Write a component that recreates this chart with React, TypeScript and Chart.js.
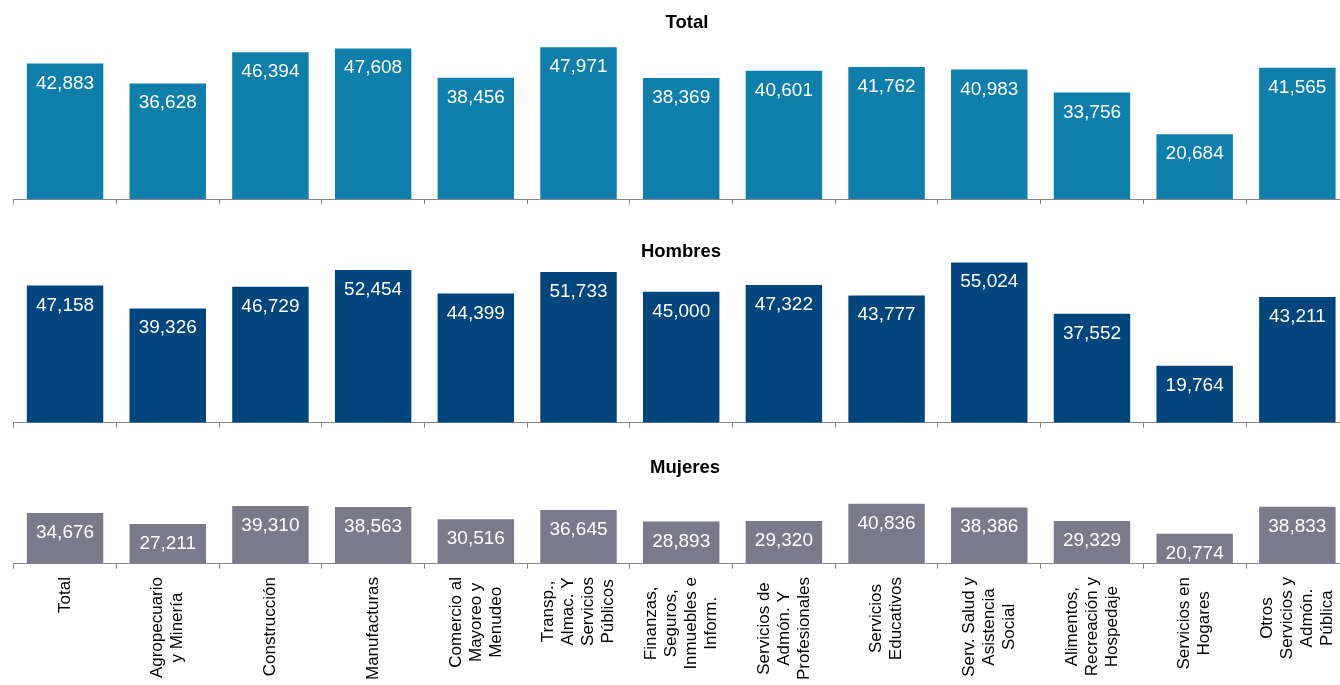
import React, { useEffect, useRef } from "react";
import { Chart, registerables } from "chart.js";

Chart.register(...registerables);

const categories: (string | string[])[] = [
  "Total",
  ["Agropecuario", "y Minería"],
  "Construcción",
  "Manufacturas",
  ["Comercio al", "Mayoreo y", "Menudeo"],
  ["Transp.,", "Almac. Y", "Servicios", "Públicos"],
  ["Finanzas,", "Seguros,", "Inmuebles e", "Inform."],
  ["Servicios de", "Admón. Y", "Profesionales"],
  ["Servicios", "Educativos"],
  ["Serv. Salud y", "Asistencia", "Social"],
  ["Alimentos,", "Recreación y", "Hospedaje"],
  ["Servicios en", "Hogares"],
  ["Otros", "Servicios y", "Admón.", "Pública"],
];

const totalValues = [42883, 36628, 46394, 47608, 38456, 47971, 38369, 40601, 41762, 40983, 33756, 20684, 41565];
const hombresValues = [47158, 39326, 46729, 52454, 44399, 51733, 45000, 47322, 43777, 55024, 37552, 19764, 43211];
const mujeresValues = [34676, 27211, 39310, 38563, 30516, 36645, 28893, 29320, 40836, 38386, 29329, 20774, 38833];

const panelTitles = ["Total", "Hombres", "Mujeres"];

const FONT = '"Liberation Sans", Arial, Helvetica, sans-serif';
const CANVAS_W = 1360;
const Y_MAX = 60000;
const AXIS_COLOR = "#878787";

type PanelCfg = {
  title: string;
  values: number[];
  color: string;
  top: number;
  height: number;
  padTop: number;
  padBottom: number;
  titleX: number;
  titleY: number;
  showLabels: boolean;
};

const panels: PanelCfg[] = [
  { title: panelTitles[0], values: totalValues, color: "#0e7eab", top: 0, height: 215, padTop: 7.9, padBottom: 10.7, titleX: 687, titleY: 28.3, showLabels: false },
  { title: panelTitles[1], values: hombresValues, color: "#00457c", top: 225, height: 215, padTop: 21.9, padBottom: 12.3, titleX: 681, titleY: 31.7, showLabels: false },
  { title: panelTitles[2], values: mujeresValues, color: "#7b7a8b", top: 450, height: 235, padTop: 24.1, padBottom: 116.3, titleX: 685, titleY: 23.2, showLabels: true },
];

const decorPlugin = {
  id: "decor",
  afterDatasetsDraw(chart: any, _args: any, opts: any) {
    const ctx: CanvasRenderingContext2D = chart.ctx;
    const meta = chart.getDatasetMeta(0);
    const data = chart.data.datasets[0].data as number[];
    ctx.save();
    // value labels inside bars
    ctx.fillStyle = "#ffffff";
    ctx.font = `19px ${FONT}`;
    ctx.textAlign = "center";
    ctx.textBaseline = "alphabetic";
    meta.data.forEach((bar: any, i: number) => {
      ctx.fillText(data[i].toLocaleString("en-US"), bar.x, bar.y + 26);
    });
    // panel title
    ctx.fillStyle = "#000000";
    ctx.font = `bold 18.5px ${FONT}`;
    ctx.fillText(opts.title, opts.titleX, opts.titleY);
    // rotated category labels
    if (opts.showLabels) {
      const xs = chart.scales.x;
      ctx.font = `17px ${FONT}`;
      ctx.textBaseline = "middle";
      ctx.fillStyle = "#000000";
      const startY = chart.chartArea.bottom + 13.3;
      categories.forEach((cat, i) => {
        const lines = Array.isArray(cat) ? cat : [cat];
        const maxW = Math.max(...lines.map((l) => ctx.measureText(l).width));
        const cx = xs.getPixelForValue(i);
        const cy = startY + maxW / 2;
        lines.forEach((line, j) => {
          const lx = cx + (j - (lines.length - 1) / 2) * 20;
          ctx.save();
          ctx.translate(lx, cy);
          ctx.rotate(-Math.PI / 2);
          ctx.fillText(line, 0, 0);
          ctx.restore();
        });
      });
    }
    ctx.restore();
  },
};

function Panel({ cfg }: { cfg: PanelCfg }) {
  const ref = useRef<HTMLCanvasElement | null>(null);
  useEffect(() => {
    if (!ref.current) return;
    const chart = new Chart(ref.current, {
      type: "bar",
      data: {
        labels: categories as any,
        datasets: [
          {
            data: cfg.values,
            backgroundColor: cfg.color,
            borderColor: "rgba(255,255,255,0.45)",
            borderWidth: 1,
            barPercentage: 0.764,
            categoryPercentage: 1,
          },
        ],
      },
      options: {
        responsive: false,
        animation: false,
        devicePixelRatio: 1,
        layout: {
          padding: {
            left: 13.7,
            right: CANVAS_W - 1348.7,
            top: cfg.padTop,
            bottom: cfg.padBottom,
          },
        },
        plugins: {
          legend: { display: false },
          title: { display: false },
          tooltip: { enabled: false },
          decor: { title: cfg.title, titleX: cfg.titleX, titleY: cfg.titleY, showLabels: cfg.showLabels },
        } as any,
        scales: {
          x: {
            grid: {
              display: true,
              drawOnChartArea: false,
              drawTicks: true,
              tickLength: 5,
              color: AXIS_COLOR,
              offset: true,
            },
            border: { display: true, color: AXIS_COLOR, width: 1 },
            ticks: { display: false },
          },
          y: { display: false, min: 0, max: Y_MAX },
        },
      },
      plugins: [decorPlugin],
    });
    return () => chart.destroy();
  }, [cfg]);
  return (
    <canvas
      ref={ref}
      width={CANVAS_W}
      height={cfg.height}
      style={{ position: "absolute", left: 0, top: cfg.top, width: CANVAS_W, height: cfg.height, display: "block" }}
    />
  );
}

export default function App() {
  return (
    <div
      style={{
        position: "fixed",
        left: 0,
        top: 0,
        width: 1340,
        height: 685,
        overflow: "hidden",
        background: "#ffffff",
      }}
    >
      {panels.map((p) => (
        <Panel key={p.title} cfg={p} />
      ))}
    </div>
  );
}
